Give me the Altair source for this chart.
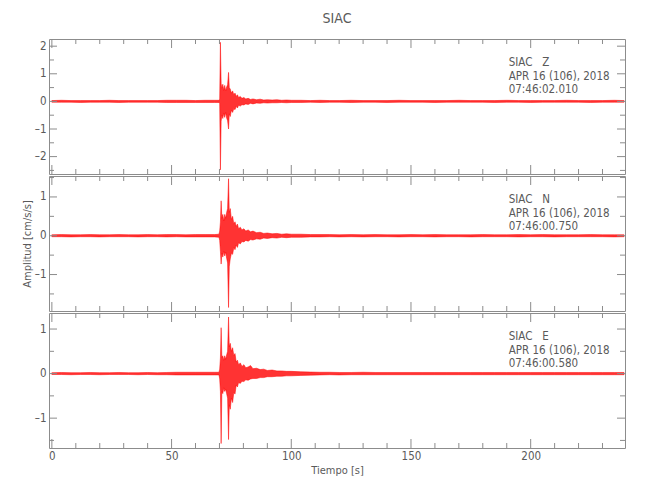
import altair as alt
import pandas as pd

# ---------------- data ----------------
TIME = [0, 4, 8, 12, 16, 20, 24, 28, 32, 36, 40, 44, 48, 52, 56, 60, 64, 68,
        69.8, 70.1, 70.4, 70.7, 71.0, 71.4, 71.8, 72.2, 72.6, 73.0, 73.4, 73.8,
        74.1, 74.5, 75.0, 75.5, 76.0, 76.5, 77.0, 77.5, 78.0, 78.7, 79.4, 80.2,
        81.0, 82.0, 83.0, 84.0, 85.5, 87.0, 88.5, 90.0, 92.0, 94.0, 96.0, 98.0, 100.0,
        104, 108, 112, 116, 120, 125, 130, 135, 140, 145, 150, 155, 160, 165, 170,
        175, 180, 185, 190, 195, 200, 205, 210, 215, 220, 225, 230, 235, 239]

Z_HI = [0.03, 0.04, 0.03, 0.03, 0.03, 0.03, 0.04, 0.03, 0.03, 0.03, 0.03, 0.03, 0.04, 0.04, 0.04, 0.03, 0.04, 0.04,
        0.04, 0.08, 2.14, 0.65, 0.48, 0.62, 0.40, 0.58, 0.38, 0.52, 0.60, 1.05,
        0.50, 0.45, 0.30, 0.38, 0.24, 0.30, 0.18, 0.24, 0.14, 0.18, 0.11, 0.14,
        0.09, 0.11, 0.07, 0.09, 0.06, 0.08, 0.05, 0.06, 0.05, 0.06, 0.04, 0.05, 0.04,
        0.04, 0.03, 0.04, 0.03, 0.03, 0.04, 0.03, 0.03, 0.03, 0.04, 0.03, 0.03, 0.03, 0.03,
        0.04, 0.03, 0.03, 0.03, 0.04, 0.03, 0.03, 0.03, 0.03, 0.04, 0.03, 0.03, 0.03, 0.04, 0.03]
Z_LO = [-0.03, -0.03, -0.03, -0.04, -0.03, -0.03, -0.03, -0.04, -0.03, -0.03, -0.03, -0.03, -0.04, -0.04, -0.04, -0.04, -0.04, -0.04,
        -0.04, -0.08, -2.48, -0.72, -0.50, -0.62, -0.42, -0.58, -0.40, -0.60, -0.70, -1.00,
        -0.45, -0.55, -0.32, -0.40, -0.26, -0.30, -0.18, -0.24, -0.14, -0.17, -0.12, -0.13,
        -0.09, -0.11, -0.07, -0.09, -0.06, -0.07, -0.05, -0.06, -0.05, -0.05, -0.04, -0.05, -0.04,
        -0.04, -0.03, -0.04, -0.03, -0.03, -0.04, -0.03, -0.03, -0.04, -0.03, -0.03, -0.03, -0.04, -0.03,
        -0.03, -0.03, -0.03, -0.04, -0.03, -0.03, -0.04, -0.03, -0.03, -0.03, -0.03, -0.04, -0.03, -0.03, -0.03]

N_HI = [0.025, 0.03, 0.025, 0.025, 0.03, 0.025, 0.025, 0.03, 0.025, 0.025, 0.03, 0.025, 0.03, 0.03, 0.025, 0.03, 0.03, 0.03,
        0.04, 0.12, 0.35, 0.90, 0.45, 0.55, 0.38, 0.55, 0.45, 0.60, 0.70, 1.47,
        0.60, 0.70, 0.42, 0.50, 0.30, 0.36, 0.24, 0.30, 0.18, 0.22, 0.15, 0.18,
        0.12, 0.15, 0.10, 0.12, 0.08, 0.09, 0.06, 0.07, 0.05, 0.06, 0.04, 0.05, 0.04,
        0.04, 0.03, 0.03, 0.03, 0.025, 0.03, 0.025, 0.03, 0.025, 0.025, 0.03, 0.025, 0.03, 0.025,
        0.025, 0.025, 0.03, 0.025, 0.025, 0.03, 0.025, 0.03, 0.025, 0.025, 0.025, 0.03, 0.025, 0.025, 0.025]
N_LO = [-0.025, -0.025, -0.03, -0.025, -0.025, -0.03, -0.025, -0.025, -0.025, -0.03, -0.025, -0.025, -0.03, -0.025, -0.03, -0.03, -0.03, -0.03,
        -0.04, -0.12, -0.40, -0.73, -0.45, -0.55, -0.40, -0.52, -0.42, -0.58, -0.70, -1.85,
        -0.80, -0.60, -0.45, -0.48, -0.30, -0.36, -0.24, -0.30, -0.18, -0.21, -0.15, -0.16,
        -0.12, -0.14, -0.10, -0.11, -0.08, -0.09, -0.06, -0.07, -0.05, -0.06, -0.04, -0.05, -0.04,
        -0.04, -0.03, -0.03, -0.025, -0.03, -0.025, -0.03, -0.025, -0.025, -0.03, -0.025, -0.025, -0.03, -0.025,
        -0.025, -0.03, -0.025, -0.025, -0.025, -0.03, -0.025, -0.025, -0.03, -0.025, -0.025, -0.025, -0.025, -0.03, -0.025]

E_HI = [0.02, 0.025, 0.02, 0.02, 0.025, 0.02, 0.02, 0.025, 0.02, 0.02, 0.025, 0.02, 0.025, 0.03, 0.03, 0.03, 0.03, 0.03,
        0.03, 0.10, 0.35, 1.03, 0.36, 0.40, 0.30, 0.40, 0.32, 0.42, 0.50, 1.27,
        0.60, 0.68, 0.50, 0.58, 0.40, 0.45, 0.26, 0.30, 0.20, 0.24, 0.16, 0.20,
        0.13, 0.15, 0.18, 0.11, 0.12, 0.09, 0.10, 0.07, 0.08, 0.06, 0.06, 0.05, 0.05,
        0.04, 0.035, 0.03, 0.03, 0.025, 0.025, 0.03, 0.025, 0.025, 0.025, 0.025, 0.025, 0.025, 0.025,
        0.025, 0.025, 0.025, 0.025, 0.025, 0.025, 0.025, 0.025, 0.025, 0.025, 0.025, 0.025, 0.025, 0.025, 0.025]
E_LO = [-0.02, -0.02, -0.025, -0.02, -0.02, -0.025, -0.02, -0.02, -0.02, -0.025, -0.02, -0.025, -0.025, -0.03, -0.03, -0.03, -0.03, -0.03,
        -0.03, -0.12, -0.40, -1.57, -0.40, -0.45, -0.32, -0.40, -0.35, -0.45, -0.55, -1.48,
        -0.70, -0.80, -0.55, -0.65, -0.42, -0.46, -0.26, -0.30, -0.20, -0.22, -0.17, -0.18,
        -0.14, -0.15, -0.12, -0.11, -0.11, -0.09, -0.09, -0.07, -0.07, -0.06, -0.06, -0.05, -0.05,
        -0.04, -0.035, -0.03, -0.025, -0.03, -0.025, -0.025, -0.025, -0.025, -0.025, -0.025, -0.025, -0.025, -0.025,
        -0.025, -0.025, -0.025, -0.025, -0.025, -0.025, -0.025, -0.025, -0.025, -0.025, -0.025, -0.025, -0.025, -0.025, -0.025]

X_MAJOR = [0, 50, 100, 150, 200]
X_MINOR = [10, 20, 30, 40, 60, 70, 80, 90, 110, 120, 130, 140, 160, 170, 180, 190, 210, 220, 230]
X_DOMAIN = [-1.2, 239.4]

Y_MAJOR_Z = [-2, -1, 0, 1, 2]
Y_MINOR_Z = [-2.5, -1.5, -0.5, 0.5, 1.5]
Y_DOMAIN_Z = [-2.63, 2.26]
Y_MAJOR_N = [-1, 0, 1]
Y_MINOR_N = [-1.5, -0.5, 0.5, 1.5]
Y_DOMAIN_N = [-1.94, 1.54]
Y_MAJOR_E = [-1, 0, 1]
Y_MINOR_E = [-1.5, -0.5, 0.5]
Y_DOMAIN_E = [-1.67, 1.36]

SP = "\u00a0\u00a0\u00a0"
INFO_Z = ["SIAC" + SP + "Z", "APR 16 (106), 2018", "07:46:02.010"]
INFO_N = ["SIAC" + SP + "N", "APR 16 (106), 2018", "07:46:00.750"]
INFO_E = ["SIAC" + SP + "E", "APR 16 (106), 2018", "07:46:00.580"]
INFO_T = 190.8

TITLE = "SIAC"
X_TITLE = "Tiempo [s]"
Y_TITLE = "Amplitud [cm/s/s]"

# ---------------- style ----------------
W, H = 576, 135
FONT = "DejaVu Sans Condensed, sans-serif"
TXT = "#5a5a5a"
FRAME = "#8c8c8c"
RED = "#ff0000"
MAJ, MIN = 9, 5
LABEL_EXPR = "replace(datum.label, '\u2212', '\u2013')"


def panel(hi, lo, ydom, ymaj, ymin, info, show_x, ytitle, title=None):
    xs = alt.Scale(domain=X_DOMAIN, nice=False, zero=False)
    ys = alt.Scale(domain=ydom, nice=False, zero=False)
    if show_x:
        xaxis = alt.Axis(values=X_MAJOR, format="d", ticks=False, domain=False, grid=False,
                         labelPadding=2, title=X_TITLE, titlePadding=3)
    else:
        xaxis = None
    yaxis = alt.Axis(values=ymaj, format="d", ticks=False, domain=False, grid=False,
                     labelPadding=3, labelExpr=LABEL_EXPR, title=ytitle, titlePadding=2)

    sig = pd.DataFrame({"t": TIME, "hi": hi, "lo": lo})
    area = alt.Chart(sig).mark_area(color=RED, fillOpacity=0.8, stroke=RED, strokeWidth=0.5).encode(
        x=alt.X("t:Q", scale=xs, axis=xaxis),
        y=alt.Y("hi:Q", scale=ys, axis=yaxis),
        y2="lo:Q",
    )

    layers = [area]
    for vals, ln in ((X_MAJOR, MAJ), (X_MINOR, MIN)):
        d = pd.DataFrame({"t": vals})
        for y0, y1 in ((0, ln), (H, H - ln)):
            layers.append(alt.Chart(d).mark_rule(color=FRAME, strokeWidth=1).encode(
                x=alt.X("t:Q", scale=xs, axis=xaxis),
                y=alt.value(y0), y2=alt.value(y1)))
    for vals, ln in ((ymaj, MAJ - 1), (ymin, MIN)):
        d = pd.DataFrame({"v": vals})
        for x0, x1 in ((0, ln), (W, W - ln)):
            layers.append(alt.Chart(d).mark_rule(color=FRAME, strokeWidth=1).encode(
                y=alt.Y("v:Q", scale=ys, axis=yaxis),
                x=alt.value(x0), x2=alt.value(x1)))

    txt = pd.DataFrame({"t": [INFO_T], "label": ["\n".join(info)]})
    layers.append(alt.Chart(txt).mark_text(
        align="left", baseline="alphabetic", lineBreak="\n", lineHeight=13.5,
        font=FONT, fontSize=11.5, color=TXT).encode(
        x=alt.X("t:Q", scale=xs, axis=xaxis),
        y=alt.value(27),
        text="label:N"))

    ch = alt.layer(*layers)
    if title:
        ch = ch.properties(width=W, height=H, title=alt.TitleParams(
            title, font=FONT, fontSize=14, fontWeight="normal", color=TXT,
            anchor="middle", frame="group", offset=13))
    else:
        ch = ch.properties(width=W, height=H)
    return ch


p1 = panel(Z_HI, Z_LO, Y_DOMAIN_Z, Y_MAJOR_Z, Y_MINOR_Z, INFO_Z, False, None, TITLE)
p2 = panel(N_HI, N_LO, Y_DOMAIN_N, Y_MAJOR_N, Y_MINOR_N, INFO_N, False, Y_TITLE)
p3 = panel(E_HI, E_LO, Y_DOMAIN_E, Y_MAJOR_E, Y_MINOR_E, INFO_E, True, None)

chart = alt.vconcat(p1, p2, p3, spacing=0).properties(
    padding={"left": 12, "top": 3, "right": 5, "bottom": 5}
).configure_view(
    stroke=FRAME, strokeWidth=1
).configure_axis(
    labelFont=FONT, labelFontSize=11.5, labelColor=TXT,
    titleFont=FONT, titleFontSize=11, titleColor=TXT, titleFontWeight="normal",
)

chart.save("out.html", embed_options={"renderer": "svg", "actions": False})
